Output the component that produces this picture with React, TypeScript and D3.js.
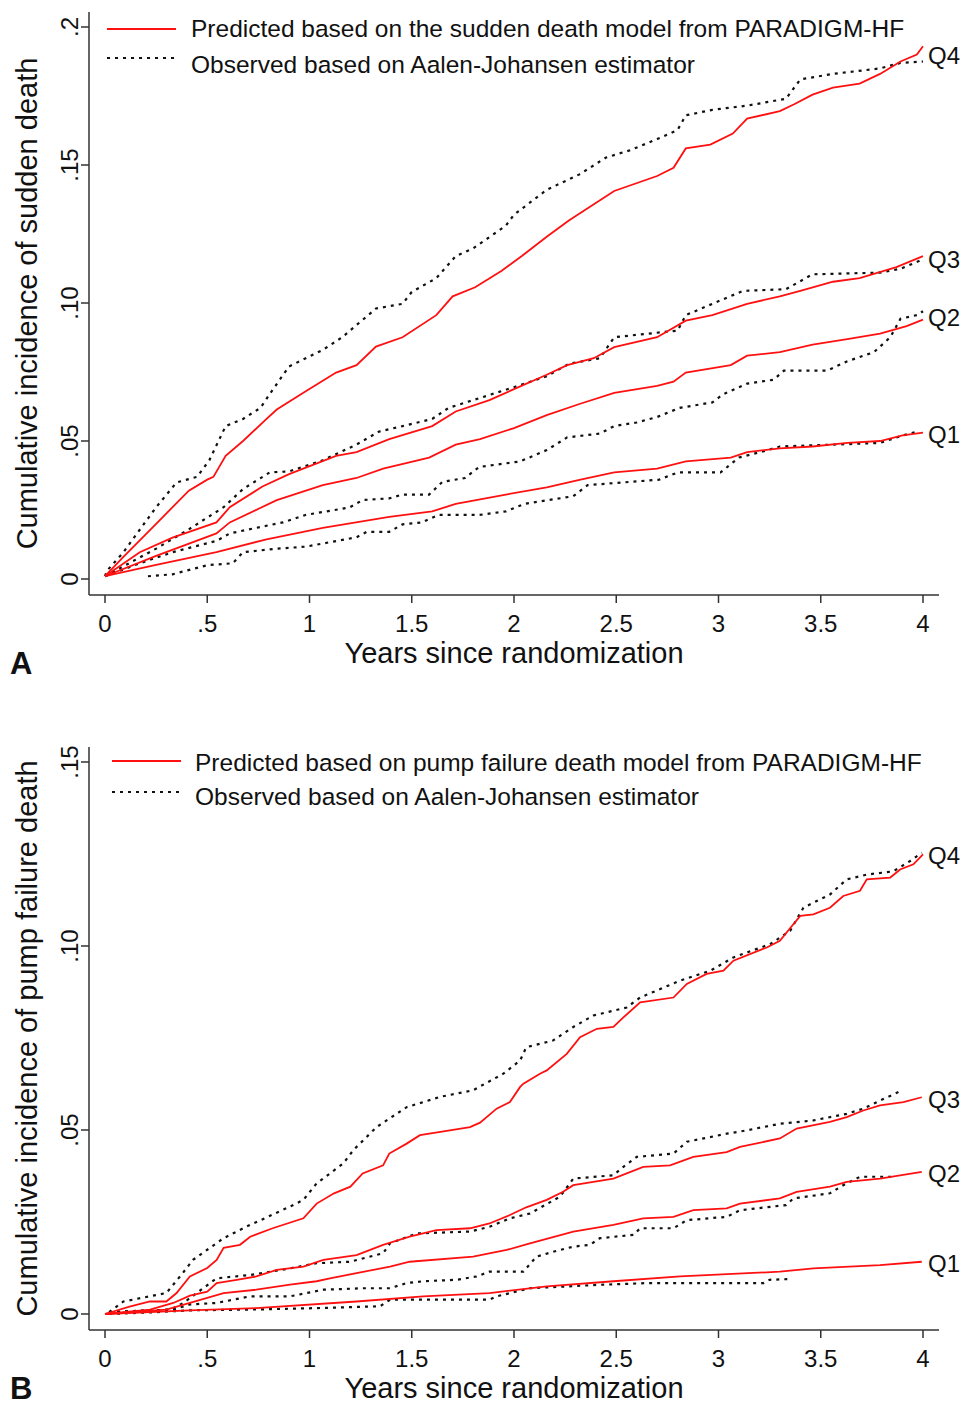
import React from 'react';
import * as d3 from 'd3';

type Pt = [number, number];

// x tick values and labels (years)
const xTicks = [0, 0.5, 1, 1.5, 2, 2.5, 3, 3.5, 4];
const xTickLabels = ['0', '.5', '1', '1.5', '2', '2.5', '3', '3.5', '4'];

// y ticks, panel A (sudden death) and panel B (pump failure)
const yTicksA = [0, 0.05, 0.1, 0.15, 0.2];
const yTickLabelsA = ['0', '.05', '.10', '.15', '.2'];
const yTicksB = [0, 0.05, 0.1, 0.15];
const yTickLabelsB = ['0', '.05', '.10', '.15'];

const quartiles = ['Q1', 'Q2', 'Q3', 'Q4'];

// Panel A - predicted (sudden death model)
const predA_Q1: Pt[] = [[0,0.001],[0.25,0.0051],[0.545,0.0097],[0.79,0.0144],[1.065,0.0185],[1.39,0.0225],[1.6,0.0245],[1.715,0.0272],[1.96,0.0306],[2.16,0.0332],[2.32,0.0359],[2.49,0.0386],[2.7,0.04],[2.84,0.0426],[3.06,0.044],[3.14,0.046],[3.3,0.0473],[3.46,0.048],[3.63,0.0493],[3.79,0.05],[3.9,0.052],[4.0,0.053]];
const predA_Q2: Pt[] = [[0,0.001],[0.25,0.0084],[0.545,0.0165],[0.61,0.0205],[0.84,0.0286],[1.065,0.034],[1.23,0.0366],[1.36,0.04],[1.585,0.044],[1.715,0.0487],[1.834,0.0507],[2.0,0.0547],[2.16,0.0594],[2.32,0.0634],[2.49,0.0674],[2.7,0.07],[2.78,0.0715],[2.84,0.0748],[3.06,0.0775],[3.14,0.0809],[3.3,0.0822],[3.46,0.0849],[3.63,0.0869],[3.79,0.0889],[3.92,0.0916],[4.0,0.094]];
const predA_Q3: Pt[] = [[0,0.001],[0.17,0.0097],[0.33,0.015],[0.545,0.0205],[0.61,0.026],[0.77,0.0335],[0.9,0.038],[1.13,0.0446],[1.23,0.046],[1.39,0.0507],[1.6,0.0554],[1.715,0.0607],[1.88,0.0648],[2.0,0.0688],[2.16,0.074],[2.26,0.0775],[2.39,0.08],[2.49,0.084],[2.7,0.0876],[2.84,0.0936],[2.97,0.0956],[3.14,0.0997],[3.3,0.1024],[3.4,0.1044],[3.56,0.1077],[3.69,0.109],[3.87,0.113],[4.0,0.117]];
const predA_Q4: Pt[] = [[0,0.001],[0.09,0.008],[0.25,0.02],[0.41,0.032],[0.5,0.036],[0.53,0.037],[0.59,0.0446],[0.675,0.05],[0.79,0.058],[0.84,0.0614],[0.97,0.0675],[1.13,0.0748],[1.23,0.0775],[1.325,0.0842],[1.455,0.0876],[1.62,0.0956],[1.7,0.1024],[1.81,0.1057],[1.94,0.1117],[2.04,0.1171],[2.16,0.124],[2.27,0.13],[2.49,0.1406],[2.7,0.146],[2.78,0.149],[2.84,0.156],[2.96,0.1574],[3.07,0.1614],[3.14,0.1668],[3.3,0.1695],[3.37,0.172],[3.46,0.1755],[3.56,0.178],[3.69,0.1795],[3.79,0.183],[3.89,0.1875],[3.97,0.19],[4.0,0.193]];

// Panel A - observed (Aalen-Johansen)
const obsA_Q1: Pt[] = [[0.21,0.001],[0.33,0.0017],[0.5,0.005],[0.625,0.0057],[0.675,0.0097],[0.84,0.011],[0.98,0.0117],[1.23,0.0151],[1.28,0.0171],[1.39,0.0171],[1.455,0.0198],[1.55,0.0205],[1.63,0.0232],[1.83,0.0232],[1.96,0.0245],[2.05,0.0272],[2.29,0.03],[2.36,0.034],[2.71,0.036],[2.8,0.0386],[3.01,0.0386],[3.1,0.044],[3.24,0.0467],[3.3,0.048],[3.79,0.0493],[3.9,0.052],[3.97,0.0534]];
const obsA_Q2: Pt[] = [[0,0.001],[0.17,0.0057],[0.33,0.0097],[0.545,0.0138],[0.61,0.0165],[0.77,0.019],[0.87,0.0205],[0.98,0.0232],[1.195,0.0259],[1.26,0.0286],[1.39,0.0292],[1.455,0.0306],[1.585,0.0306],[1.65,0.0352],[1.76,0.0366],[1.83,0.0406],[2.03,0.0426],[2.16,0.0467],[2.26,0.0513],[2.42,0.0527],[2.49,0.0554],[2.6,0.0567],[2.7,0.0587],[2.81,0.062],[2.97,0.064],[3.02,0.0668],[3.14,0.0708],[3.27,0.0722],[3.32,0.0755],[3.53,0.0755],[3.63,0.0789],[3.76,0.0822],[3.84,0.0876],[3.89,0.0943],[3.97,0.0956],[4.0,0.097]];
const obsA_Q3: Pt[] = [[0,0.001],[0.25,0.011],[0.41,0.018],[0.58,0.026],[0.675,0.0326],[0.805,0.0386],[0.9,0.039],[1.065,0.043],[1.23,0.0487],[1.34,0.0534],[1.455,0.0554],[1.6,0.058],[1.68,0.062],[1.8,0.0648],[2.0,0.0695],[2.16,0.0735],[2.27,0.078],[2.42,0.08],[2.49,0.0876],[2.8,0.09],[2.84,0.0956],[2.97,0.0997],[3.12,0.1044],[3.33,0.105],[3.46,0.1104],[3.79,0.111],[3.89,0.1124],[4.0,0.1158]];
const obsA_Q4: Pt[] = [[0,0.001],[0.01,0.003],[0.09,0.0097],[0.25,0.026],[0.35,0.035],[0.45,0.037],[0.51,0.043],[0.59,0.0554],[0.675,0.058],[0.76,0.062],[0.81,0.0675],[0.9,0.077],[1.065,0.083],[1.16,0.0876],[1.325,0.098],[1.455,0.0997],[1.5,0.104],[1.62,0.109],[1.715,0.117],[1.8,0.1198],[1.96,0.128],[2.0,0.132],[2.16,0.141],[2.32,0.1466],[2.45,0.1527],[2.57,0.1554],[2.7,0.1594],[2.8,0.1627],[2.84,0.168],[2.97,0.17],[3.14,0.1715],[3.33,0.174],[3.4,0.181],[3.56,0.183],[3.79,0.185],[3.89,0.187],[4.0,0.1875]];

// Panel B - predicted (pump failure death model)
const predB_Q1: Pt[] = [[0,0],[0.415,0.001],[0.74,0.0016],[1.23,0.0034],[1.556,0.0048],[1.88,0.0057],[2.16,0.0075],[2.486,0.0089],[2.812,0.0102],[3.3,0.0115],[3.464,0.0124],[3.79,0.0133],[3.994,0.0142]];
const predB_Q2: Pt[] = [[0,0],[0.3,0.0012],[0.415,0.003],[0.58,0.0057],[0.74,0.0066],[0.905,0.008],[1.035,0.0089],[1.1,0.0097],[1.23,0.0111],[1.394,0.0129],[1.49,0.0142],[1.8,0.0156],[1.964,0.0174],[2.078,0.0192],[2.29,0.0224],[2.486,0.0242],[2.632,0.026],[2.78,0.0264],[2.877,0.0282],[3.04,0.0287],[3.105,0.03],[3.3,0.0314],[3.382,0.0332],[3.545,0.0346],[3.627,0.0359],[3.79,0.0368],[3.994,0.0386]];
const predB_Q3: Pt[] = [[0,0],[0.22,0.0012],[0.334,0.003],[0.415,0.005],[0.5,0.0061],[0.546,0.0084],[0.644,0.0093],[0.74,0.0102],[0.84,0.012],[0.97,0.0129],[1.068,0.0147],[1.23,0.016],[1.36,0.0188],[1.49,0.021],[1.62,0.0228],[1.785,0.0233],[1.88,0.0246],[1.98,0.0269],[2.06,0.029],[2.16,0.031],[2.24,0.0332],[2.29,0.035],[2.486,0.0368],[2.632,0.04],[2.763,0.0404],[2.877,0.0427],[3.04,0.044],[3.105,0.0454],[3.3,0.0477],[3.382,0.0504],[3.545,0.0522],[3.627,0.0535],[3.708,0.0553],[3.79,0.0567],[3.904,0.0576],[3.994,0.0589]];
const predB_Q4: Pt[] = [[0,0],[0.12,0.002],[0.22,0.0034],[0.3,0.0034],[0.35,0.0057],[0.415,0.0102],[0.5,0.0125],[0.546,0.0147],[0.58,0.018],[0.66,0.0188],[0.71,0.021],[0.82,0.0233],[0.97,0.026],[1.035,0.03],[1.12,0.0328],[1.2,0.0346],[1.26,0.0382],[1.36,0.0404],[1.39,0.0436],[1.475,0.0463],[1.54,0.0486],[1.64,0.0495],[1.785,0.0508],[1.834,0.052],[1.915,0.0558],[1.98,0.0576],[2.03,0.0617],[2.046,0.0626],[2.127,0.0653],[2.16,0.0662],[2.258,0.0707],[2.323,0.0752],[2.405,0.0775],[2.486,0.078],[2.535,0.0806],[2.617,0.0847],[2.78,0.086],[2.845,0.0897],[2.942,0.0924],[3.024,0.0933],[3.073,0.096],[3.236,0.0996],[3.3,0.1014],[3.366,0.1059],[3.4,0.1082],[3.464,0.1086],[3.545,0.1104],[3.61,0.1136],[3.692,0.115],[3.725,0.1181],[3.84,0.1186],[3.888,0.1208],[3.953,0.1222],[4.0,0.1249]];

// Panel B - observed (Aalen-Johansen)
const obsB_Q1: Pt[] = [[0.02,0],[0.25,0.0005],[0.415,0.001],[0.71,0.0012],[1.035,0.0016],[1.345,0.0021],[1.394,0.0039],[1.88,0.0039],[1.915,0.0048],[2.078,0.007],[2.405,0.0079],[2.65,0.0084],[3.22,0.0084],[3.25,0.0093],[3.35,0.0095]];
const obsB_Q2: Pt[] = [[0.02,0.0005],[0.22,0.001],[0.334,0.0012],[0.415,0.0026],[0.546,0.003],[0.71,0.0048],[0.905,0.0048],[1.068,0.0066],[1.263,0.007],[1.394,0.007],[1.475,0.0084],[1.556,0.0089],[1.72,0.0093],[1.817,0.0102],[1.88,0.0115],[2.046,0.0115],[2.11,0.0156],[2.19,0.0169],[2.29,0.0183],[2.372,0.0188],[2.42,0.0206],[2.584,0.0215],[2.617,0.0233],[2.78,0.0233],[2.845,0.0255],[3.04,0.0264],[3.105,0.0282],[3.33,0.0296],[3.366,0.0314],[3.545,0.0328],[3.61,0.035],[3.692,0.0373],[3.855,0.0373]];
const obsB_Q3: Pt[] = [[0.02,0.0005],[0.25,0.001],[0.32,0.0012],[0.383,0.003],[0.546,0.0097],[0.71,0.0106],[0.905,0.0124],[1.035,0.0138],[1.198,0.0142],[1.36,0.0165],[1.394,0.0192],[1.524,0.0219],[1.785,0.0224],[1.88,0.0237],[1.98,0.026],[2.078,0.0273],[2.225,0.0319],[2.29,0.0368],[2.486,0.0377],[2.535,0.04],[2.6,0.0427],[2.78,0.0436],[2.845,0.0468],[3.04,0.049],[3.138,0.0499],[3.3,0.0517],[3.464,0.0526],[3.627,0.0544],[3.708,0.0558],[3.79,0.058],[3.88,0.0603]];
const obsB_Q4: Pt[] = [[0.02,0.0005],[0.09,0.0034],[0.3,0.0057],[0.38,0.0111],[0.43,0.0147],[0.58,0.0206],[0.69,0.0237],[0.905,0.0292],[0.97,0.031],[1.035,0.0355],[1.165,0.0409],[1.214,0.0445],[1.263,0.0472],[1.328,0.0508],[1.475,0.0562],[1.638,0.059],[1.8,0.0608],[1.948,0.0653],[2.03,0.0689],[2.06,0.0725],[2.19,0.0743],[2.29,0.078],[2.388,0.0811],[2.551,0.0833],[2.617,0.086],[2.812,0.0906],[2.96,0.0933],[3.073,0.0969],[3.252,0.1005],[3.35,0.1041],[3.415,0.1104],[3.545,0.114],[3.627,0.1181],[3.725,0.1194],[3.855,0.1203],[3.937,0.1231],[3.994,0.1253]];

const FONT = '"Liberation Sans", Arial, Helvetica, sans-serif';
const RED = '#ff1010';
const AXIS = '#333';
const INK = '#111';

interface PanelProps {
  top: number; // top of y axis line
  bottom: number; // y of x axis line
  yMax: number;
  yMaxPx: number;
  yZeroPx: number;
  yTicks: number[];
  yTickLabels: string[];
  pred: Pt[][];
  obs: Pt[][];
  legendPred: string;
  legendObs: string;
  legend: { x0: number; x1: number; tx: number; predY: number; obsY: number; predBase: number; obsBase: number };
  yTitle: string;
  letter: string;
  letterBase: number;
}

const Panel = (p: PanelProps) => {
  const x = d3.scaleLinear().domain([0, 4]).range([105, 923]);
  const y = d3.scaleLinear().domain([0, p.yMax]).range([p.yZeroPx, p.yMaxPx]);
  const line = d3
    .line<Pt>()
    .x((d) => x(d[0]))
    .y((d) => y(d[1]));
  const axisX = 89;
  const midY = (p.top + p.bottom) / 2;

  return (
    <g fontFamily={FONT} fill={INK}>
      {/* axes */}
      <line x1={axisX} x2={axisX} y1={p.top} y2={p.bottom} stroke={AXIS} strokeWidth={1.5} />
      <line x1={axisX} x2={939} y1={p.bottom} y2={p.bottom} stroke={AXIS} strokeWidth={1.5} />
      {p.yTicks.map((t, i) => (
        <g key={'y' + i}>
          <line x1={axisX - 8} x2={axisX} y1={y(t)} y2={y(t)} stroke={AXIS} strokeWidth={1.5} />
          <text
            transform={`translate(78,${y(t)}) rotate(-90)`}
            textAnchor="middle"
            fontSize={24}
          >
            {p.yTickLabels[i]}
          </text>
        </g>
      ))}
      {xTicks.map((t, i) => (
        <g key={'x' + i}>
          <line x1={x(t)} x2={x(t)} y1={p.bottom} y2={p.bottom + 8} stroke={AXIS} strokeWidth={1.5} />
          <text x={x(t)} y={p.bottom + 37} textAnchor="middle" fontSize={24}>
            {xTickLabels[i]}
          </text>
        </g>
      ))}
      <text transform={`translate(37,${midY}) rotate(-90)`} textAnchor="middle" fontSize={29}>
        {p.yTitle}
      </text>
      <text x={x(2)} y={p.bottom + 68} textAnchor="middle" fontSize={29}>
        Years since randomization
      </text>
      <text x={10} y={p.letterBase} fontSize={31} fontWeight="bold">
        {p.letter}
      </text>

      {/* curves */}
      {p.obs.map((s, i) => (
        <path
          key={'o' + i}
          d={line(s) || ''}
          fill="none"
          stroke="#111"
          strokeWidth={2.2}
          strokeDasharray="3 5"
        />
      ))}
      {p.pred.map((s, i) => (
        <path key={'p' + i} d={line(s) || ''} fill="none" stroke={RED} strokeWidth={1.8} />
      ))}

      {/* end labels */}
      {p.pred.map((s, i) => {
        const last = s[s.length - 1][1];
        const o = p.obs[i][p.obs[i].length - 1];
        const v = o[0] >= 3.95 ? (last + o[1]) / 2 : last;
        return (
          <text key={'q' + i} x={928} y={y(v) + 2} dominantBaseline="central" fontSize={24}>
            {quartiles[i]}
          </text>
        );
      })}

      {/* legend */}
      <line x1={p.legend.x0} x2={p.legend.x1} y1={p.legend.predY} y2={p.legend.predY} stroke={RED} strokeWidth={1.8} />
      <line
        x1={p.legend.x0}
        x2={p.legend.x1}
        y1={p.legend.obsY}
        y2={p.legend.obsY}
        stroke="#111"
        strokeWidth={2.2}
        strokeDasharray="3 5"
      />
      <text x={p.legend.tx} y={p.legend.predBase} fontSize={24.5}>
        {p.legendPred}
      </text>
      <text x={p.legend.tx} y={p.legend.obsBase} fontSize={24.5}>
        {p.legendObs}
      </text>
    </g>
  );
};

const App = () => {
  return (
    <svg
      width={974}
      height={1407}
      style={{ position: 'absolute', left: 0, top: 0, background: '#fff' }}
    >
      <rect width={974} height={1407} fill="#fff" />
      <Panel
        top={12}
        bottom={595}
        yMax={0.2}
        yMaxPx={27}
        yZeroPx={579}
        yTicks={yTicksA}
        yTickLabels={yTickLabelsA}
        pred={[predA_Q1, predA_Q2, predA_Q3, predA_Q4]}
        obs={[obsA_Q1, obsA_Q2, obsA_Q3, obsA_Q4]}
        legendPred="Predicted based on the sudden death model from PARADIGM-HF"
        legendObs="Observed based on Aalen-Johansen estimator"
        legend={{ x0: 107, x1: 176, tx: 191, predY: 29, obsY: 58, predBase: 37, obsBase: 73 }}
        yTitle="Cumulative incidence of sudden death"
        letter="A"
        letterBase={674}
      />
      <Panel
        top={747}
        bottom={1330}
        yMax={0.15}
        yMaxPx={762}
        yZeroPx={1314}
        yTicks={yTicksB}
        yTickLabels={yTickLabelsB}
        pred={[predB_Q1, predB_Q2, predB_Q3, predB_Q4]}
        obs={[obsB_Q1, obsB_Q2, obsB_Q3, obsB_Q4]}
        legendPred="Predicted based on pump failure death model from PARADIGM-HF"
        legendObs="Observed based on Aalen-Johansen estimator"
        legend={{ x0: 112, x1: 181, tx: 195, predY: 761, obsY: 792, predBase: 771, obsBase: 805 }}
        yTitle="Cumulative incidence of pump failure death"
        letter="B"
        letterBase={1399}
      />
    </svg>
  );
};

export default App;
